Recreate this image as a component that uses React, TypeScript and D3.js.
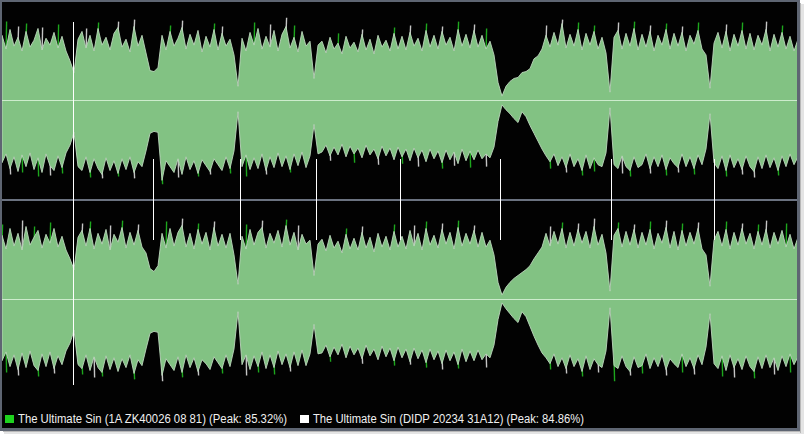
import * as d3 from "d3";

// peak amplitude per column (percent of half height), upper / lower edge of each channel
const ch1Top = [
  66, 52, 72, 55, 64, 50, 70, 54, 61, 73, 51, 63, 56, 69, 53, 65, 50, 40, 28, 62,
  70, 53, 66, 50, 73, 56, 64, 51, 68, 74, 54, 62, 49, 75, 55, 66, 48, 30, 29, 33,
  66, 51, 70, 55, 63, 74, 52, 67, 56, 71, 49, 65, 54, 72, 51, 68, 55, 62, 46, 14,
  63, 50, 69, 56, 73, 52, 65, 54, 71, 50, 67, 75, 53, 64, 49, 70, 55, 60, 22, 56,
  60, 48, 64, 52, 58, 47, 65, 53, 59, 49, 67, 51, 62, 47, 66, 54, 61, 50, 68, 52,
  65, 51, 69, 55, 63, 50, 71, 54, 66, 52, 70, 56, 64, 50, 72, 55, 67, 53, 71, 54,
  66, 52, 60, 46, 18, 4, 14, 19, 22, 23, 28, 29, 32, 42, 45, 52, 66, 54, 69, 56,
  78, 53, 67, 55, 72, 51, 68, 56, 70, 52, 64, 48, 8, 64, 71, 52, 68, 55, 73, 51,
  67, 54, 70, 50, 66, 56, 72, 52, 68, 55, 69, 50, 66, 57, 71, 52, 46, 12, 58, 69,
  53, 70, 50, 67, 55, 71, 52, 68, 51, 66, 56, 72, 50, 67, 54, 69, 52, 65, 50, 62,
];
const ch1Bottom = [
  64, 55, 70, 58, 73, 56, 68, 54, 71, 59, 74, 55, 67, 72, 57, 69, 54, 46, 33, 68,
  72, 58, 74, 60, 70, 76, 59, 72, 62, 75, 60, 71, 58, 74, 63, 68, 52, 34, 32, 33,
  82, 62, 68, 74, 60, 76, 58, 71, 62, 75, 61, 67, 73, 60, 66, 72, 58, 70, 52, 12,
  68, 56, 71, 59, 70, 55, 72, 58, 69, 54, 68, 57, 71, 55, 67, 53, 69, 57, 25, 55,
  53, 46, 57, 48, 56, 45, 58, 47, 55, 49, 59, 46, 56, 50, 60, 47, 57, 49, 61, 48,
  58, 50, 62, 49, 59, 51, 63, 50, 60, 52, 64, 51, 61, 53, 65, 50, 62, 52, 61, 51,
  60, 55, 59, 48, 22, 5, 10, 14, 19, 23, 12, 17, 26, 34, 42, 50, 57, 63, 55, 67,
  58, 69, 55, 68, 60, 72, 56, 70, 59, 66, 68, 54, 8, 66, 70, 57, 68, 72, 58, 69,
  66, 55, 70, 58, 68, 56, 71, 59, 65, 69, 55, 68, 58, 70, 56, 66, 50, 14, 64, 70,
  57, 72, 56, 69, 60, 71, 57, 68, 73, 58, 70, 56, 69, 59, 72, 57, 68, 55, 66, 58,
];
const ch2Top = [
  65, 51, 72, 54, 67, 50, 74, 55, 63, 70, 52, 66, 57, 72, 53, 64, 50, 41, 30, 63,
  70, 54, 72, 51, 67, 56, 71, 50, 66, 58, 73, 52, 68, 55, 70, 53, 47, 31, 28, 34,
  67, 52, 72, 54, 68, 75, 53, 67, 51, 71, 56, 68, 50, 73, 54, 66, 52, 67, 45, 15,
  64, 51, 71, 55, 68, 73, 52, 67, 57, 70, 53, 75, 55, 68, 50, 66, 56, 60, 24, 56,
  61, 49, 65, 52, 59, 47, 66, 51, 62, 50, 68, 52, 63, 48, 67, 53, 64, 50, 69, 53,
  64, 51, 70, 54, 67, 50, 72, 55, 65, 52, 71, 56, 68, 51, 73, 54, 67, 56, 70, 53,
  68, 53, 60, 45, 17, 4, 12, 17, 21, 24, 27, 30, 34, 41, 47, 53, 67, 54, 69, 56,
  72, 52, 68, 54, 71, 57, 69, 52, 74, 55, 66, 47, 8, 65, 72, 53, 69, 55, 71, 52,
  68, 55, 71, 51, 67, 57, 73, 52, 69, 50, 70, 54, 68, 56, 72, 51, 45, 13, 60, 69,
  54, 71, 51, 68, 55, 72, 56, 67, 51, 69, 55, 71, 52, 68, 56, 70, 53, 66, 51, 63,
];
const ch2Bottom = [
  63, 54, 69, 57, 72, 55, 70, 53, 68, 73, 56, 69, 54, 71, 58, 67, 53, 45, 32, 67,
  71, 57, 73, 59, 70, 75, 58, 72, 60, 74, 61, 70, 57, 76, 62, 68, 51, 35, 33, 34,
  78, 61, 67, 73, 59, 75, 57, 70, 60, 74, 62, 66, 72, 59, 65, 71, 57, 69, 51, 13,
  67, 57, 72, 58, 69, 54, 71, 57, 70, 53, 67, 56, 70, 54, 68, 52, 68, 56, 26, 56,
  55, 47, 59, 49, 57, 46, 60, 48, 57, 50, 61, 47, 58, 51, 62, 48, 59, 50, 63, 49,
  60, 51, 64, 50, 61, 52, 65, 51, 62, 53, 66, 52, 63, 54, 67, 51, 64, 53, 63, 52,
  62, 56, 60, 47, 21, 4, 10, 15, 20, 24, 13, 18, 28, 38, 47, 55, 60, 66, 56, 69,
  60, 71, 57, 69, 61, 74, 58, 72, 61, 67, 70, 53, 9, 68, 71, 58, 69, 74, 59, 70,
  68, 56, 71, 60, 69, 57, 72, 61, 66, 70, 56, 69, 60, 71, 57, 67, 49, 15, 66, 71,
  58, 73, 57, 70, 61, 72, 58, 69, 74, 59, 71, 57, 70, 60, 73, 58, 69, 56, 67, 59,
];

// [column, peak, which source is louder: g = green, w = white]
type Spike = [number, number, string];
const ch1TopSpikes: Spike[] = [
  [1, 80, "g"], [4, 75, "w"], [6, 78, "g"], [10, 74, "w"], [14, 77, "g"], [21, 73, "w"],
  [24, 79, "g"], [29, 80, "w"], [33, 82, "w"], [42, 76, "g"], [45, 81, "w"], [53, 78, "g"],
  [55, 75, "w"], [63, 79, "g"], [67, 77, "w"], [71, 84, "w"], [73, 76, "g"], [84, 68, "g"],
  [90, 72, "w"], [98, 74, "g"], [102, 76, "w"], [106, 78, "g"], [110, 75, "w"], [114, 80, "g"],
  [118, 77, "w"], [121, 73, "g"], [136, 76, "w"], [140, 82, "w"], [144, 79, "g"], [148, 76, "g"],
  [154, 79, "w"], [158, 80, "g"], [162, 76, "w"], [166, 78, "g"], [170, 75, "w"], [174, 79, "g"],
  [181, 77, "w"], [185, 79, "g"], [191, 80, "w"], [195, 76, "g"],
];
const ch1BottomSpikes: Spike[] = [
  [2, 76, "w"], [5, 74, "g"], [9, 78, "g"], [12, 77, "w"], [15, 75, "g"], [22, 79, "g"],
  [25, 80, "w"], [29, 78, "g"], [33, 80, "w"], [40, 86, "g"], [44, 79, "w"], [49, 78, "g"],
  [52, 76, "w"], [57, 75, "g"], [61, 78, "g"], [66, 76, "w"], [72, 74, "g"], [82, 62, "w"],
  [88, 64, "g"], [94, 66, "w"], [100, 65, "g"], [104, 68, "w"], [110, 70, "g"], [113, 67, "w"],
  [117, 69, "g"], [121, 68, "w"], [137, 70, "g"], [141, 74, "w"], [145, 77, "g"], [148, 73, "g"],
  [155, 75, "w"], [157, 78, "g"], [162, 75, "w"], [166, 77, "g"], [169, 74, "w"], [173, 76, "g"],
  [181, 78, "g"], [185, 76, "w"], [188, 79, "w"], [194, 77, "g"],
];
const ch2TopSpikes: Spike[] = [
  [0, 76, "g"], [5, 80, "w"], [8, 74, "g"], [12, 78, "g"], [20, 77, "w"], [22, 79, "g"],
  [27, 75, "w"], [30, 80, "g"], [34, 76, "w"], [41, 79, "g"], [45, 82, "w"], [49, 77, "g"],
  [53, 79, "w"], [61, 76, "g"], [65, 80, "w"], [71, 81, "g"], [74, 75, "w"], [86, 72, "g"],
  [90, 74, "w"], [98, 76, "g"], [103, 75, "w"], [106, 79, "g"], [110, 77, "w"], [114, 80, "g"],
  [118, 75, "w"], [137, 74, "w"], [140, 78, "g"], [144, 77, "w"], [148, 82, "w"], [154, 78, "g"],
  [158, 76, "w"], [162, 79, "g"], [166, 80, "w"], [170, 77, "g"], [174, 78, "w"], [181, 79, "g"],
  [185, 77, "w"], [189, 76, "g"], [191, 80, "w"], [196, 77, "g"],
];
const ch2BottomSpikes: Spike[] = [
  [1, 75, "g"], [4, 78, "w"], [9, 79, "g"], [13, 76, "w"], [20, 77, "g"], [23, 80, "w"],
  [25, 79, "g"], [33, 82, "g"], [40, 84, "w"], [45, 80, "g"], [49, 78, "w"], [55, 76, "g"],
  [61, 78, "w"], [64, 75, "g"], [68, 77, "g"], [72, 74, "w"], [82, 64, "g"], [90, 66, "w"],
  [98, 68, "g"], [102, 67, "w"], [106, 70, "g"], [110, 72, "w"], [114, 71, "g"], [121, 70, "w"],
  [137, 72, "g"], [141, 76, "w"], [145, 79, "g"], [149, 75, "w"], [153, 84, "g"], [157, 78, "w"],
  [160, 76, "g"], [166, 78, "w"], [170, 75, "g"], [173, 77, "w"], [180, 79, "g"], [183, 80, "w"],
  [188, 81, "g"], [193, 77, "w"], [197, 75, "g"],
];

// track boundaries (column units)
const markers = [17.75, 37.75, 59.5, 78.5, 99.5, 124.5, 152.25, 178];

const legendItems = [
  { label: "The Ultimate Sin (1A ZK40026 08 81) (Peak: 85.32%)", color: "#1ed21e", x: 5, len: 269 },
  { label: "The Ultimate Sin (DIDP 20234 31A12) (Peak: 84.86%)", color: "#ffffff", x: 300, len: 271 },
];

const W = 804;
const H = 434;
const left = 2;
const right = 797;
const top = 2;
const bottom = 428;
const half = 98;

const FILL = "#82c283";
const GREEN = "#1da61d";
const WHITE = "#c4c4c4";

const x = d3.scaleLinear().domain([0, ch1Top.length - 1]).range([left, right + 1]);

function Channel({ center, upper, lower, upSpikes, downSpikes }: {
  center: number; upper: number[]; lower: number[]; upSpikes: Spike[]; downSpikes: Spike[];
}) {
  const y = d3.scaleLinear().domain([-100, 100]).range([center + half, center - half]);
  const idx = d3.range(upper.length);
  const area = d3.area<number>()
    .x((i) => x(i))
    .y0((i) => y(-lower[i]))
    .y1((i) => y(upper[i]));
  return (
    <g>
      {upSpikes.map(([i, v, c], k) => (
        <line key={"u" + k} x1={x(i)} x2={x(i) + 0.6} y1={y(upper[i] - 8)} y2={y(v)}
          stroke={c === "g" ? GREEN : WHITE} strokeWidth={1.4} />
      ))}
      {downSpikes.map(([i, v, c], k) => (
        <line key={"d" + k} x1={x(i)} x2={x(i) + 0.6} y1={y(-lower[i] + 8)} y2={y(-v)}
          stroke={c === "g" ? GREEN : WHITE} strokeWidth={1.4} />
      ))}
      <path d={area(idx) || ""} fill={FILL} stroke="#bcd6bc" strokeWidth={0.9} />
      <line x1={left} x2={right} y1={center + 0.5} y2={center + 0.5} stroke="#cdeccd" strokeWidth={1} />
    </g>
  );
}

export default function App() {
  return (
    <div style={{ position: "absolute", left: 0, top: 0 }}>
      <svg width={W} height={H} style={{ display: "block" }}>
        <rect x={0} y={0} width={W} height={H} fill="#ffffff" />
        <rect x={801} y={4} width={3} height={430} fill="#e4e4e4" />
        <rect x={4} y={432} width={800} height={2} fill="#e4e4e4" />
        <rect x={800} y={3} width={1} height={430} fill="#b8b8b8" />
        <rect x={3} y={431} width={798} height={1} fill="#b8b8b8" />
        <rect x={0} y={0} width={800} height={431} fill="#5e6572" />
        <rect x={left} y={top} width={right - left} height={bottom - top} fill="#020202" />
        <defs>
          <clipPath id="plot">
            <rect x={left} y={top} width={right - left} height={bottom - top} />
          </clipPath>
        </defs>
        <g clipPath="url(#plot)">
          <Channel center={100} upper={ch1Top} lower={ch1Bottom} upSpikes={ch1TopSpikes} downSpikes={ch1BottomSpikes} />
          <Channel center={299} upper={ch2Top} lower={ch2Bottom} upSpikes={ch2TopSpikes} downSpikes={ch2BottomSpikes} />
          <rect x={left} y={199} width={right - left} height={2} fill="#6b7280" />
          {markers.map((m, k) => (
            <line key={k} x1={Math.round(x(m)) + 0.5} x2={Math.round(x(m)) + 0.5}
              y1={k === 0 ? 22 : 159} y2={k === 0 ? 385 : 240} stroke="#ffffff" strokeWidth={1} />
          ))}
        </g>
        {legendItems.map((it, k) => (
          <g key={k}>
            <rect x={it.x} y={415} width={9} height={8} fill={it.color} />
            <text x={it.x + 13} y={423} fill="#f0f0f0" fontSize={12} textLength={it.len}
              lengthAdjust="spacingAndGlyphs"
              fontFamily="'Liberation Sans', Arial, sans-serif">{it.label}</text>
          </g>
        ))}
      </svg>
    </div>
  );
}
